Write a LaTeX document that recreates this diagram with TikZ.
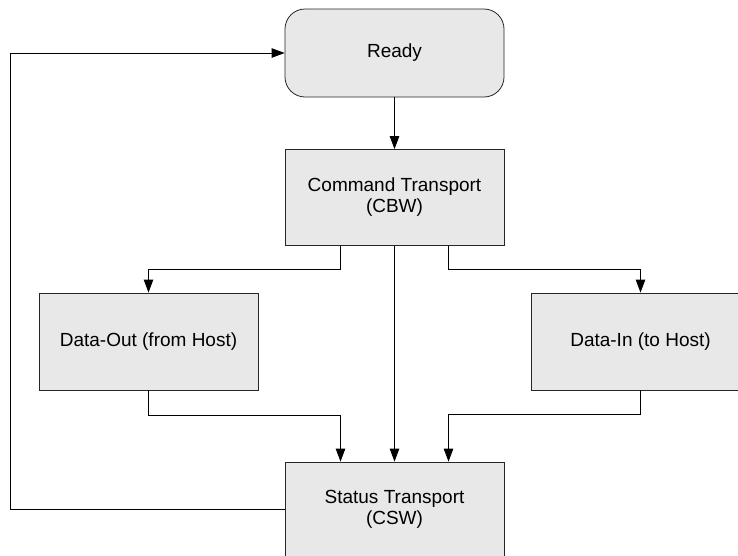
\documentclass[tikz,border=0pt]{standalone}
\usepackage{fontspec}
\setmainfont{Liberation Sans}
\usetikzlibrary{arrows.meta}
\tikzset{
    state/.style={draw=black!85, line width=0.8pt, fill=black!9, minimum width=219pt, inner sep=0pt, align=center, font=\fontsize{19}{21}\selectfont},
    flow/.style={line width=0.8pt, -{Triangle[length=13pt,width=9.5pt]}}
}
\begin{document}
\begin{tikzpicture}[x=1pt,y=-1pt]
            \useasboundingbox (0,0) rectangle (738,555);

            \node (ready) [state, rounded corners=20pt, minimum height=88pt] at (394.5,53) {Ready};
            \node (cbw) [state, minimum height=96pt] at (394.5,197.5) {Command Transport\\(CBW)};
            \node (dataout) [state, minimum height=97pt] at (148.5,341.5) {Data-Out (from Host)};
            \node (datain) [state, minimum height=97pt] at (640.5,341.5) {Data-In (to Host)};
            \node (csw) [state, minimum height=95pt] at (394.5,509.5) {Status Transport\\(CSW)};

            \draw[flow] (ready) -- (cbw);
            \draw[flow] ([xshift=-54pt]cbw.south) -- ++(0,23.5) -| (dataout.north);
            \draw[flow] ([xshift=54pt]cbw.south) -- ++(0,23.5) -| (datain.north);
            \draw[flow] (cbw) -- (csw);
            \draw[flow] (dataout.south) -- ++(0,25) -| ([xshift=-54pt]csw.north);
            \draw[flow] (datain.south) -- ++(0,24) -| ([xshift=54pt]csw.north);
            \draw[flow] (csw.west) -- ++(-274,0) |- (ready.west);
        \end{tikzpicture}
\end{document}
